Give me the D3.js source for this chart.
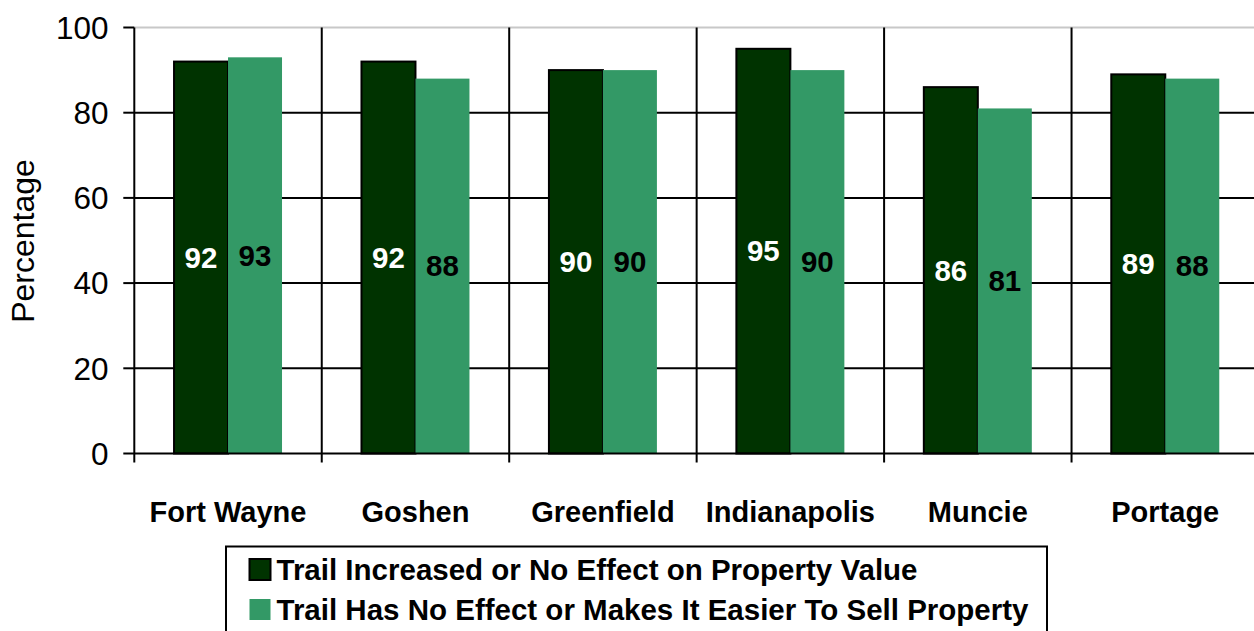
<!DOCTYPE html>
<html>
<head>
<meta charset="utf-8">
<script src="https://cdn.jsdelivr.net/npm/d3@7"></script>
<style>
  html, body { margin: 0; padding: 0; background: #fff; }
  svg { display: block; font-family: "Liberation Sans", Arial, sans-serif; }
</style>
</head>
<body>
<svg id="chart" width="1254" height="631"></svg>
<script>
const categories = ["Fort Wayne", "Goshen", "Greenfield", "Indianapolis", "Muncie", "Portage"];
const seriesNames = ["Trail Increased or No Effect on Property Value",
                     "Trail Has No Effect or Makes It Easier To Sell Property"];
const increasedValues = [92, 92, 90, 95, 86, 89];
const easierValues = [93, 88, 90, 90, 81, 88];
const yTicks = [0, 20, 40, 60, 80, 100];
const yTitle = "Percentage";

(function () {
const seriesValues = [increasedValues, easierValues];
const colors = ["#003300", "#339966"];
const labelColors = ["#ffffff", "#000000"];

const svg = d3.select("#chart");
const pLeft = 134.3, pRight = 1259, pTop = 27.5, pBottom = 453.5;

const x = d3.scaleBand().domain(categories).range([pLeft, pRight]).paddingInner(0).paddingOuter(0);
const x1 = d3.scaleBand().domain(d3.range(seriesNames.length)).range([0, x.bandwidth()])
  .paddingInner(0).paddingOuter(0.736);
const y = d3.scaleLinear().domain([0, 100]).range([pBottom, pTop]);

// gridlines
svg.append("g").selectAll("line").data(yTicks.filter(t => t > 0)).join("line")
  .attr("x1", pLeft).attr("x2", 1254)
  .attr("y1", d => y(d)).attr("y2", d => y(d))
  .attr("stroke", d => d === 100 ? "#c8c8c8" : "#000")
  .attr("stroke-width", 2);

// vertical separators
svg.append("g").selectAll("line").data(categories.slice(1)).join("line")
  .attr("x1", d => x(d)).attr("x2", d => x(d))
  .attr("y1", y(100)).attr("y2", pBottom + 9)
  .attr("stroke", "#000").attr("stroke-width", 2);

// bars
const groups = svg.append("g").selectAll("g").data(categories).join("g")
  .attr("transform", d => `translate(${x(d)},0)`);

const rows = categories.map((c, i) => seriesValues.map((vals, s) => ({ c, s, v: vals[i] })));

groups.each(function (c, i) {
  const g = d3.select(this);
  rows[i].forEach(d => {
    g.append("rect")
      .attr("x", x1(d.s)).attr("width", x1.bandwidth())
      .attr("y", y(d.v)).attr("height", y(0) - y(d.v))
      .attr("fill", colors[d.s])
      .attr("stroke", d.s === 0 ? "#000" : "none")
      .attr("stroke-width", 2);
  });
  rows[i].forEach(d => {
    g.append("text")
      .attr("x", x1(d.s) + x1.bandwidth() / 2)
      .attr("y", (y(d.v) + y(0)) / 2)
      .attr("dy", "0.35em")
      .attr("text-anchor", "middle")
      .attr("font-size", 29.5).attr("font-weight", "bold")
      .attr("fill", labelColors[d.s])
      .text(d.v);
  });
});

// y axis
svg.append("line").attr("x1", pLeft).attr("x2", pLeft).attr("y1", pTop).attr("y2", pBottom + 9)
  .attr("stroke", "#000").attr("stroke-width", 2);
svg.append("line").attr("x1", pLeft).attr("x2", 1254).attr("y1", pBottom).attr("y2", pBottom)
  .attr("stroke", "#000").attr("stroke-width", 2);
const yAxis = svg.append("g");
yAxis.selectAll("line").data(yTicks).join("line")
  .attr("x1", pLeft - 11).attr("x2", pLeft).attr("y1", d => y(d)).attr("y2", d => y(d))
  .attr("stroke", "#000").attr("stroke-width", 2);
yAxis.selectAll("text").data(yTicks).join("text")
  .attr("x", 108.5).attr("y", d => y(d)).attr("dy", "0.36em")
  .attr("text-anchor", "end").attr("font-size", 31.5).attr("fill", "#000")
  .text(d => d);

svg.append("text")
  .attr("transform", `translate(34,241) rotate(-90)`)
  .attr("text-anchor", "middle").attr("font-size", 32).attr("fill", "#000")
  .text(yTitle);

// category labels
svg.append("g").selectAll("text").data(categories).join("text")
  .attr("x", d => x(d) + x.bandwidth() / 2).attr("y", 521.7)
  .attr("text-anchor", "middle").attr("font-size", 29).attr("font-weight", "bold")
  .text(d => d);

// legend
const lg = svg.append("g");
lg.append("rect").attr("x", 226).attr("y", 546.5).attr("width", 821).attr("height", 110)
  .attr("fill", "#fff").attr("stroke", "#000").attr("stroke-width", 2);
seriesNames.forEach((name, s) => {
  const by = 580 + s * 40;
  lg.append("rect").attr("x", 249.5).attr("y", by - 21).attr("width", 21).attr("height", 21)
    .attr("fill", colors[s]).attr("stroke", s === 0 ? "#000" : "none").attr("stroke-width", 2);
  lg.append("text").attr("x", 276.5).attr("y", by)
    .attr("font-size", 29.5).attr("font-weight", "bold").text(name);
});
})();
</script>
</body>
</html>
